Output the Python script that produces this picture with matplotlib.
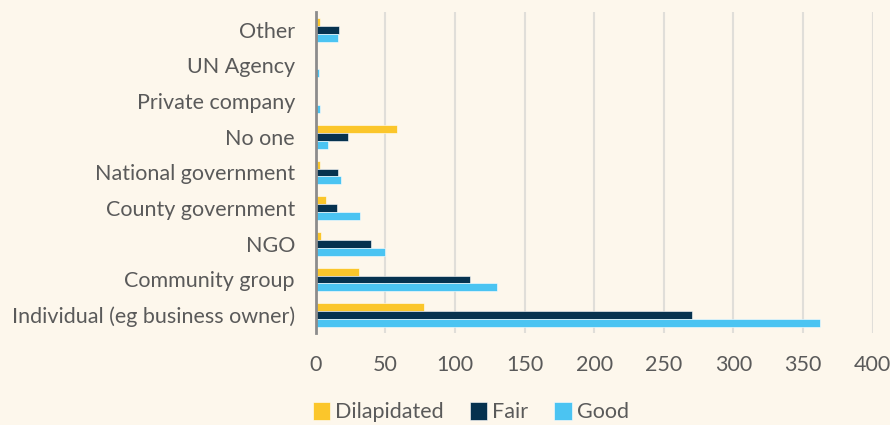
import numpy as np
import matplotlib
matplotlib.use("Agg")
import matplotlib.pyplot as plt

# categories top to bottom as shown
categories = ["Other", "UN Agency", "Private company", "No one",
              "National government", "County government", "NGO",
              "Community group", "Individual (eg business owner)"]
dilapidated = [3, 0, 0, 58, 3, 7, 4, 31, 78]
fair = [17, 0, 0, 23, 16, 15, 40, 111, 270]
good = [16, 2, 3, 9, 18, 32, 50, 130, 362]

series = [("Dilapidated", dilapidated, "#FBC62B"),
          ("Fair", fair, "#06324F"),
          ("Good", good, "#4BC4F2")]

bg = "#FDF7EC"
txt = "#5a5a5a"
plt.rcParams['font.family'] = ['Lato', 'DejaVu Sans']

fig = plt.figure(figsize=(8.9, 4.25), dpi=100, facecolor=bg)
ax = fig.add_axes([0.3548, 0.2165, 0.6256, 0.7553])
ax.set_facecolor(bg)

y = np.arange(len(categories))
h = 0.22
for i, (name, vals, col) in enumerate(series):
    ax.barh(y + (i - 1) * h, vals, height=h, color=col, label=name,
            edgecolor="#ffffff", linewidth=0.4, zorder=3)

ax.set_ylim(len(categories) - 0.5, -0.5)
ax.set_xlim(0, 400)
ax.set_xticks(range(0, 401, 50))
ax.set_yticks(y)
ax.set_yticklabels(categories)
ax.grid(axis="x", color="#e0ded9", linewidth=1.5, zorder=0)
ax.set_axisbelow(True)

for s in ["top", "right", "bottom"]:
    ax.spines[s].set_visible(False)
ax.spines["left"].set_color("#8c8c8c")
ax.spines["left"].set_linewidth(2)
ax.spines["left"].set_zorder(4)

ax.tick_params(axis="both", length=0, labelcolor=txt, labelsize=15.5)
ax.tick_params(axis="x", pad=16)
ax.tick_params(axis="y", pad=15)

fig.legend(loc="center", bbox_to_anchor=(0.529, 0.03), ncol=3, frameon=False,
           fontsize=15.5, labelcolor=txt, handlelength=0.8, handleheight=0.9,
           handletextpad=0.25, columnspacing=1.2)

fig.savefig("out.png", dpi=100, facecolor=bg)
